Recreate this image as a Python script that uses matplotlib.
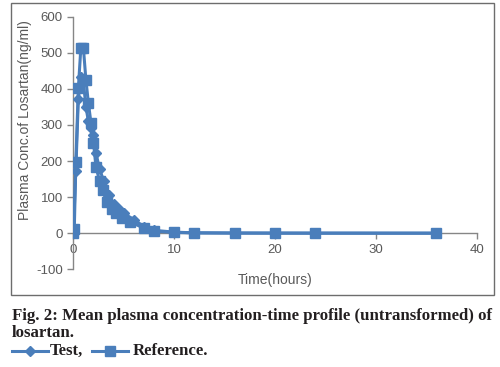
import matplotlib
matplotlib.use("Agg")
import matplotlib.pyplot as plt
from matplotlib.lines import Line2D
from matplotlib.patches import Rectangle

# mean plasma concentrations of losartan (ng/ml) vs time (hours)
t_test = [0, 0.25, 0.5, 0.75, 1.0, 1.25, 1.5, 1.75, 2.0, 2.25, 2.6, 3.0, 3.5,
          4.0, 4.5, 5.0, 6.0, 7.0, 8.0, 10, 12, 16, 20, 24, 36]
test = [0, 173, 372, 432, 420, 350, 310, 292, 272, 222, 178, 146, 105,
        80, 68, 55, 38, 18, 8, 3, 1, 0.5, 0.3, 0.2, 0.1]

t_ref = [0, 0.1, 0.25, 0.5, 0.75, 1.0, 1.25, 1.5, 1.75, 2.0, 2.25, 2.6, 2.9,
         3.3, 3.8, 4.2, 4.8, 5.6, 7.0, 8.0, 10, 12, 16, 20, 24, 36]
ref = [0, 12, 196, 402, 514, 514, 425, 360, 306, 251, 183, 146, 119,
       87, 68, 55, 41, 32, 14, 6, 2, 1, 0.5, 0.3, 0.2, 0.1]

xticks = [0, 10, 20, 30, 40]
yticks = [-100, 0, 100, 200, 300, 400, 500, 600]

blue = "#4a7ebb"
grey = "#868686"
txt = "#595959"

plt.rcParams["font.family"] = ["Liberation Sans", "DejaVu Sans"]
plt.rcParams["axes.unicode_minus"] = False

fig = plt.figure(figsize=(5.0, 3.67), dpi=100)
W, H = 500, 367

# chart frame
fig.patches.append(Rectangle((11 / W, 1 - 295 / H), 483 / W, 292 / H,
                             transform=fig.transFigure, fill=False,
                             edgecolor="#6d6d6d", lw=1.0))

ax = fig.add_axes([73.3 / W, 1 - 269.3 / H, 403.4 / W, 252.6 / H])
ax.plot(t_test, test, color=blue, lw=2.2, marker="D", ms=5.5,
        label="Test", zorder=3)
ax.plot(t_ref, ref, color=blue, lw=2.2, marker="s", ms=7.5,
        label="Reference", zorder=3)

ax.set_xlim(0, 40)
ax.set_ylim(-100, 600)
ax.set_xticks(xticks)
ax.set_yticks(yticks)
ax.spines["top"].set_visible(False)
ax.spines["right"].set_visible(False)
ax.spines["bottom"].set_position(("data", 0))
for s in ("left", "bottom"):
    ax.spines[s].set_color(grey)
    ax.spines[s].set_linewidth(1.0)
ax.tick_params(axis="both", colors=grey, labelcolor=txt, labelsize=9.5,
               length=4, width=1.0, direction="out")
ax.patch.set_alpha(0)

ax.set_xlabel("Time(hours)", fontsize=10, color=txt)
ax.xaxis.label.set_va("center")
ax.xaxis.set_label_coords(0.5, -0.042)
ax.set_ylabel("Plasma Conc.of Losartan(ng/ml)", fontsize=10, color=txt)
ax.yaxis.label.set_va("center")
ax.yaxis.set_label_coords(-0.12, 0.59)

# caption
cap = dict(family=["Liberation Serif", "DejaVu Serif"], weight="bold",
           fontsize=12.1, color="#231f20", va="center")
fig.text(12 / W, 1 - 316 / H,
         "Fig. 2: Mean plasma concentration-time profile (untransformed) of",
         **cap)
fig.text(12 / W, 1 - 333 / H, "losartan.", **cap)

ly = 1 - 351 / H
fig.lines.append(Line2D([12 / W, 48 / W], [ly, ly], transform=fig.transFigure,
                        color=blue, lw=2.2))
fig.lines.append(Line2D([30 / W], [ly], transform=fig.transFigure,
                        color=blue, marker="D", ms=5.5, lw=0))
fig.text(50 / W, ly, "Test,", **cap)
fig.lines.append(Line2D([92 / W, 128 / W], [ly, ly], transform=fig.transFigure,
                        color=blue, lw=2.2))
fig.lines.append(Line2D([110 / W], [ly], transform=fig.transFigure,
                        color=blue, marker="s", ms=7.5, lw=0))
fig.text(133 / W, ly, "Reference.", **cap)

fig.savefig("out.png", dpi=100)
